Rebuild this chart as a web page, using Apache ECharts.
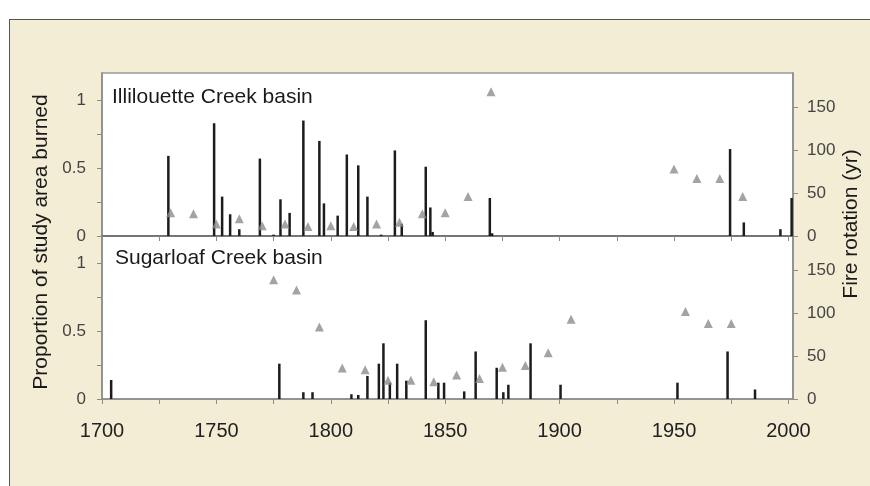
<!DOCTYPE html>
<html lang="en">
<head>
    <meta charset="UTF-8">
    <title>Fire history</title>
    <style type="text/css">
        body { margin: 0; background: #fff; }
        #frame {
            position: absolute; left: 9px; top: 19px;
            width: 900px; height: 500px;
            background: #f3edd6;
            border: 1.5px solid #555;
        }
        #chart { position: absolute; left: 0; top: 0; width: 870px; height: 486px; }
    </style>
</head>
<body>
<div id="frame"></div>
<div id="chart"></div>
<script src="https://cdn.jsdelivr.net/npm/echarts@6.0.0/dist/echarts.min.js"></script>
<script>
    // Illilouette Creek basin
    var illBarYears = [1729, 1749, 1752.5, 1756, 1760, 1769, 1775, 1778, 1782, 1788, 1795, 1797, 1803, 1807, 1812, 1816, 1822, 1828, 1831, 1841.5, 1843.5, 1844.5, 1869.5, 1870.5, 1974.5, 1980.5, 1996.5, 2001.4];
    var illBarVals = [0.59, 0.83, 0.29, 0.16, 0.05, 0.57, 0.01, 0.27, 0.17, 0.85, 0.70, 0.24, 0.15, 0.60, 0.52, 0.29, 0.01, 0.63, 0.09, 0.51, 0.21, 0.03, 0.28, 0.02, 0.64, 0.10, 0.05, 0.28];
    var illTriYears = [1730, 1740, 1750, 1760, 1770, 1780, 1790, 1800, 1810, 1820, 1830, 1840, 1850, 1860, 1870, 1950, 1960, 1970, 1980];
    var illTriVals = [27, 26, 14, 20, 12, 14, 11, 12, 11, 14, 16, 26, 27, 46, 168, 78, 67, 67, 46];

    // Sugarloaf Creek basin
    var sugBarYears = [1704, 1777.5, 1788, 1792, 1809, 1812, 1816, 1821, 1823, 1825.8, 1829, 1833, 1841.5, 1847, 1849.5, 1858.3, 1863.3, 1872.5, 1875.4, 1877.6, 1887.3, 1900.4, 1951.5, 1973.4, 1985.4];
    var sugBarVals = [0.14, 0.26, 0.05, 0.05, 0.035, 0.03, 0.17, 0.26, 0.41, 0.12, 0.26, 0.135, 0.58, 0.12, 0.12, 0.056, 0.35, 0.23, 0.05, 0.105, 0.41, 0.105, 0.12, 0.35, 0.07];
    var sugTriYears = [1775, 1785, 1795, 1805, 1815, 1825, 1835, 1845, 1855, 1865, 1875, 1885, 1895, 1905, 1955, 1965, 1975];
    var sugTriVals = [139, 127, 84, 36, 34, 22, 22, 20, 28, 24, 37, 39, 54, 93, 102, 88, 88];

    var xTicks = [1700, 1725, 1750, 1775, 1800, 1825, 1850, 1875, 1900, 1925, 1950, 1975, 2000];
    var xLabels = [1700, 1750, 1800, 1850, 1900, 1950, 2000];
    var leftTicks = [0, 0.25, 0.5, 0.75, 1];
    var leftLabels = [0, 0.5, 1];
    var rightTicks = [0, 50, 100, 150];

    function pairs(xs, ys) {
        return xs.map(function (x, i) { return [x, ys[i]]; });
    }

    var font = 'Liberation Sans, Arial, sans-serif';
    var axisGray = '#8a8a8a';

    function xAxis(idx, showLabels) {
        return {
            gridIndex: idx, type: 'value', min: 1700, max: 2002,
            axisLine: {show: true, onZero: false, lineStyle: {color: idx === 0 ? '#666' : axisGray, width: 1.5}},
            axisTick: {show: true, inside: false, length: 5, customValues: xTicks, lineStyle: {color: axisGray}},
            axisLabel: {
                show: showLabels, customValues: xLabels, margin: 22, fontSize: 20, color: '#222', fontFamily: font,
                formatter: function (v) { return String(v); }
            },
            splitLine: {show: false}
        };
    }
    function leftAxis(idx) {
        return {
            gridIndex: idx, type: 'value', min: 0, max: 1.2, position: 'left',
            axisLine: {show: true, lineStyle: {color: axisGray, width: 1.5}},
            axisTick: {show: true, length: 5, customValues: leftTicks, lineStyle: {color: axisGray}},
            axisLabel: {customValues: leftLabels, margin: 16, fontSize: 17, color: '#444', fontFamily: font},
            splitLine: {show: false}
        };
    }
    function rightAxis(idx) {
        return {
            gridIndex: idx, type: 'value', min: 0, max: 190, position: 'right',
            axisLine: {show: true, lineStyle: {color: axisGray, width: 1.5}},
            axisTick: {show: true, length: 5, customValues: rightTicks, lineStyle: {color: axisGray}},
            axisLabel: {customValues: rightTicks, margin: 14, fontSize: 17, color: '#444', fontFamily: font},
            splitLine: {show: false}
        };
    }

    var myChart = echarts.init(document.getElementById('chart'));
    var option = {
        animation: false,
        grid: [
            {left: 102, right: 77, top: 73, height: 163, show: true, backgroundColor: '#fff', borderColor: '#999', borderWidth: 1.5},
            {left: 102, right: 77, top: 236, height: 163, show: true, backgroundColor: '#fff', borderColor: '#999', borderWidth: 1.5}
        ],
        xAxis: [xAxis(0, false), xAxis(1, true)],
        yAxis: [leftAxis(0), rightAxis(0), leftAxis(1), rightAxis(1)],
        graphic: [
            {type: 'text', x: 112, y: 97, style: {text: 'Illilouette Creek basin', fill: '#1a1a1a', font: '21px ' + font, verticalAlign: 'middle'}},
            {type: 'text', x: 115, y: 258, style: {text: 'Sugarloaf Creek basin', fill: '#1a1a1a', font: '21px ' + font, verticalAlign: 'middle'}},
            {type: 'text', x: 41, y: 242, rotation: Math.PI / 2, style: {text: 'Proportion of study area burned', font: '21px ' + font, fill: '#1a1a1a', align: 'center', verticalAlign: 'middle'}},
            {type: 'text', x: 851, y: 224, rotation: Math.PI / 2, style: {text: 'Fire rotation (yr)', font: '21px ' + font, fill: '#1a1a1a', align: 'center', verticalAlign: 'middle'}}
        ],
        series: [
            {type: 'bar', xAxisIndex: 0, yAxisIndex: 0, barWidth: 2.5, itemStyle: {color: '#1c1c1c'}, data: pairs(illBarYears, illBarVals)},
            {type: 'scatter', xAxisIndex: 0, yAxisIndex: 1, symbol: 'triangle', symbolSize: 9, itemStyle: {color: '#8c8c8c'}, data: pairs(illTriYears, illTriVals), z: 3},
            {type: 'bar', xAxisIndex: 1, yAxisIndex: 2, barWidth: 2.5, itemStyle: {color: '#1c1c1c'}, data: pairs(sugBarYears, sugBarVals)},
            {type: 'scatter', xAxisIndex: 1, yAxisIndex: 3, symbol: 'triangle', symbolSize: 9, itemStyle: {color: '#8c8c8c'}, data: pairs(sugTriYears, sugTriVals), z: 3}
        ]
    };
    myChart.setOption(option);
</script>
</body>
</html>
